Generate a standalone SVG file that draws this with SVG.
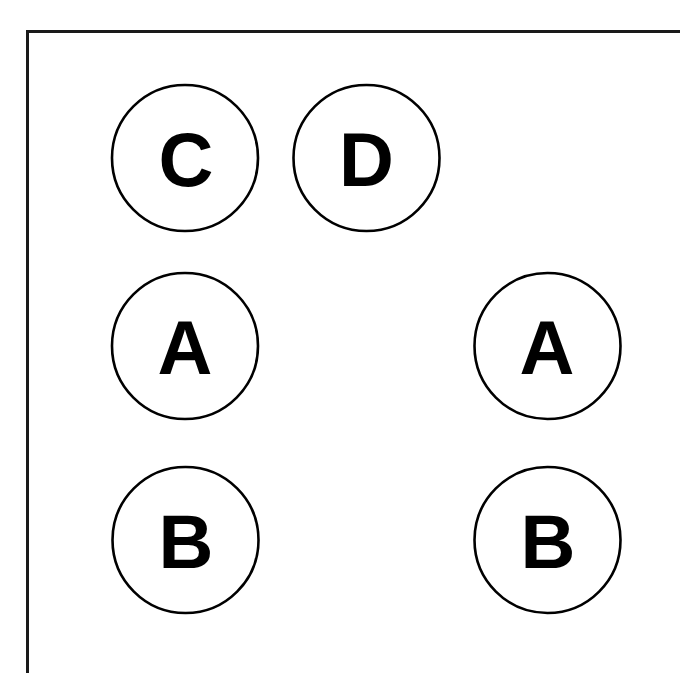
<svg xmlns="http://www.w3.org/2000/svg" width="680" height="673" viewBox="0 0 680 673">
<style>
.frame{fill:none;stroke:#1a1a1a;stroke-width:3}
.node circle{fill:#fff;stroke:#000;stroke-width:2.6}
.node text{font-family:"Liberation Sans",Arial,sans-serif;font-weight:bold;font-size:76px;fill:#000;text-anchor:middle}
</style>
<rect width="680" height="673" fill="#fff"/>
<path class="frame" d="M27.5,673 V31.5 H680"/>
<g id="connectors"></g>
<g id="nodeC" class="node"><circle cx="185" cy="158" r="73"/><text x="186" y="186">C</text></g>
<g id="nodeD" class="node"><circle cx="366.5" cy="158" r="73"/><text x="366.5" y="186">D</text></g>
<g id="nodeA1" class="node"><circle cx="185" cy="346" r="73"/><text x="185" y="374">A</text></g>
<g id="nodeA2" class="node"><circle cx="547.5" cy="346" r="73"/><text x="547" y="374">A</text></g>
<g id="nodeB1" class="node"><circle cx="185.5" cy="540" r="73"/><text x="186" y="568">B</text></g>
<g id="nodeB2" class="node"><circle cx="547.5" cy="540" r="73"/><text x="548" y="568">B</text></g>
</svg>
